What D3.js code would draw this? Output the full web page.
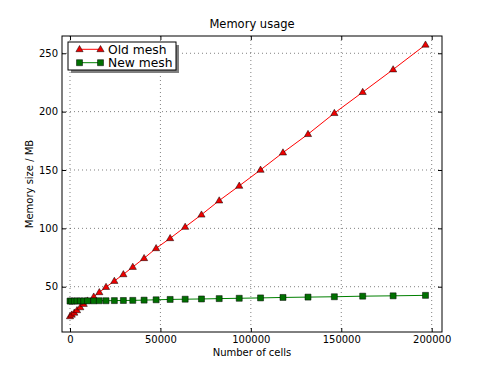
<!DOCTYPE html>
<html>
<head>
<meta charset="utf-8">
<script src="https://cdn.jsdelivr.net/npm/d3@7"></script>
<style>
  body { margin: 0; background: #fff; }
  svg { display: block; font-family: "DejaVu Sans", sans-serif; }
</style>
</head>
<body>
<svg id="chart" width="491" height="370"></svg>
<script>
// values
var cells = [0, 940, 2380, 3880, 5700, 7590, 9700, 13120, 16220, 19930, 24530, 29510, 34720,
    40980, 47620, 55370, 63680, 72700, 82500, 93580, 105370, 117770, 131620, 146180,
    161850, 178680, 196570]
var oldMesh = [24.6, 26.0, 27.7, 29.8, 32.3, 35.2, 38.0, 41.4, 45.2, 49.7, 54.9, 60.6, 66.9,
    74.4, 82.9, 91.5, 101.2, 111.7, 123.8, 136.4, 150.1, 164.9, 180.7, 198.7,
    216.7, 236.1, 257.3]
var newMesh = [37.7, 37.7, 37.7, 37.8, 37.8, 37.8, 37.9, 37.9, 38.0, 38.0, 38.1, 38.2, 38.3,
    38.5, 38.8, 39.1, 39.3, 39.5, 39.8, 40.1, 40.4, 40.8, 41.1, 41.4,
    41.9, 42.2, 42.6]
var xTicks = [0, 50000, 100000, 150000, 200000]
var yTicks = [50, 100, 150, 200, 250]
var seriesNames = ['Old mesh', 'New mesh']

var svg = d3.select('#chart')
var margin = { left: 62, right: 442, top: 36, bottom: 332 }

var x = d3.scaleLinear().domain([-4420, 205700]).range([margin.left, margin.right])
var y = d3.scaleLinear().domain([11.2, 264.8]).range([margin.bottom, margin.top])

// grid
var grid = svg.append('g')
grid.selectAll('.gx').data(xTicks).enter().append('line')
    .attr('x1', d => x(d)).attr('x2', d => x(d))
    .attr('y1', margin.top).attr('y2', margin.bottom)
    .attr('stroke', '#000').attr('stroke-width', 0.5).attr('stroke-dasharray', '1,3')
grid.selectAll('.gy').data(yTicks).enter().append('line')
    .attr('y1', d => y(d)).attr('y2', d => y(d))
    .attr('x1', margin.left).attr('x2', margin.right)
    .attr('stroke', '#000').attr('stroke-width', 0.5).attr('stroke-dasharray', '1,3')

// axes, ticks pointing inwards on all four sides
function styleAxis(g) {
    g.select('.domain').remove()
    g.selectAll('line').attr('stroke', '#000')
    g.selectAll('text').attr('fill', '#000').attr('font-size', 10)
        .attr('font-family', '"DejaVu Sans", sans-serif')
}
svg.append('g')
    .attr('transform', 'translate(0,' + margin.bottom + ')')
    .call(d3.axisBottom(x).tickValues(xTicks).tickSize(-4).tickPadding(4).tickFormat(d3.format('d')))
    .call(styleAxis)
svg.append('g')
    .attr('transform', 'translate(0,' + margin.top + ')')
    .call(d3.axisTop(x).tickValues(xTicks).tickSize(-4).tickFormat(''))
    .call(styleAxis)
svg.append('g')
    .attr('transform', 'translate(' + margin.left + ',0)')
    .call(d3.axisLeft(y).tickValues(yTicks).tickSize(-4).tickPadding(4).tickFormat(d3.format('d')))
    .call(styleAxis)
svg.append('g')
    .attr('transform', 'translate(' + margin.right + ',0)')
    .call(d3.axisRight(y).tickValues(yTicks).tickSize(-4).tickFormat(''))
    .call(styleAxis)

svg.append('rect')
    .attr('x', margin.left).attr('y', margin.top)
    .attr('width', margin.right - margin.left).attr('height', margin.bottom - margin.top)
    .attr('fill', 'none').attr('stroke', '#000').attr('stroke-width', 1)

// series
var tri = 'M0,-3.8L3.6,2.4L-3.6,2.4Z'
var sq = 'M-3,-3H3V3H-3Z'
var series = [
    { name: seriesNames[0], values: oldMesh, color: '#ff0000', fill: '#ee0000', marker: tri },
    { name: seriesNames[1], values: newMesh, color: '#008000', fill: '#007000', marker: sq }
]
var line = d3.line().x((d, i) => x(cells[i])).y(d => y(d))

series.forEach(function(s) {
    var g = svg.append('g')
    g.append('path')
        .attr('d', line(s.values))
        .attr('fill', 'none').attr('stroke', s.color).attr('stroke-width', 1)
    g.selectAll('path.m').data(s.values).enter().append('path')
        .attr('class', 'm')
        .attr('d', s.marker)
        .attr('transform', (d, i) => 'translate(' + x(cells[i]) + ',' + y(d) + ')')
        .attr('fill', s.fill).attr('stroke', '#000').attr('stroke-width', 0.5)
})

// title and labels
svg.append('text').attr('x', 252).attr('y', 28).attr('text-anchor', 'middle')
    .attr('font-size', 11.5).text('Memory usage')
svg.append('text').attr('x', 252).attr('y', 356).attr('text-anchor', 'middle')
    .attr('font-size', 10).text('Number of cells')
svg.append('text').attr('transform', 'translate(33,184) rotate(-90)').attr('text-anchor', 'middle')
    .attr('font-size', 10).text('Memory size / MB')

// legend with shadow
var lg = svg.append('g')
lg.append('rect').attr('x', 71).attr('y', 45).attr('width', 108).attr('height', 28).attr('fill', '#808080')
lg.append('rect').attr('x', 68).attr('y', 42).attr('width', 108).attr('height', 28)
    .attr('fill', '#fff').attr('stroke', '#000').attr('stroke-width', 1)
series.forEach(function(s, i) {
    var ly = 49.3 + i * 13.4
    lg.append('line').attr('x1', 79.5).attr('x2', 100.5).attr('y1', ly).attr('y2', ly)
        .attr('stroke', s.color).attr('stroke-width', 1)
    ;[79.5, 100.5].forEach(function(px) {
        lg.append('path').attr('d', s.marker).attr('transform', 'translate(' + px + ',' + ly + ')')
            .attr('fill', s.fill).attr('stroke', '#000').attr('stroke-width', 0.5)
    })
    lg.append('text').attr('x', 108).attr('y', ly + 4.5).attr('font-size', 12.3).text(s.name)
})
</script>
</body>
</html>
